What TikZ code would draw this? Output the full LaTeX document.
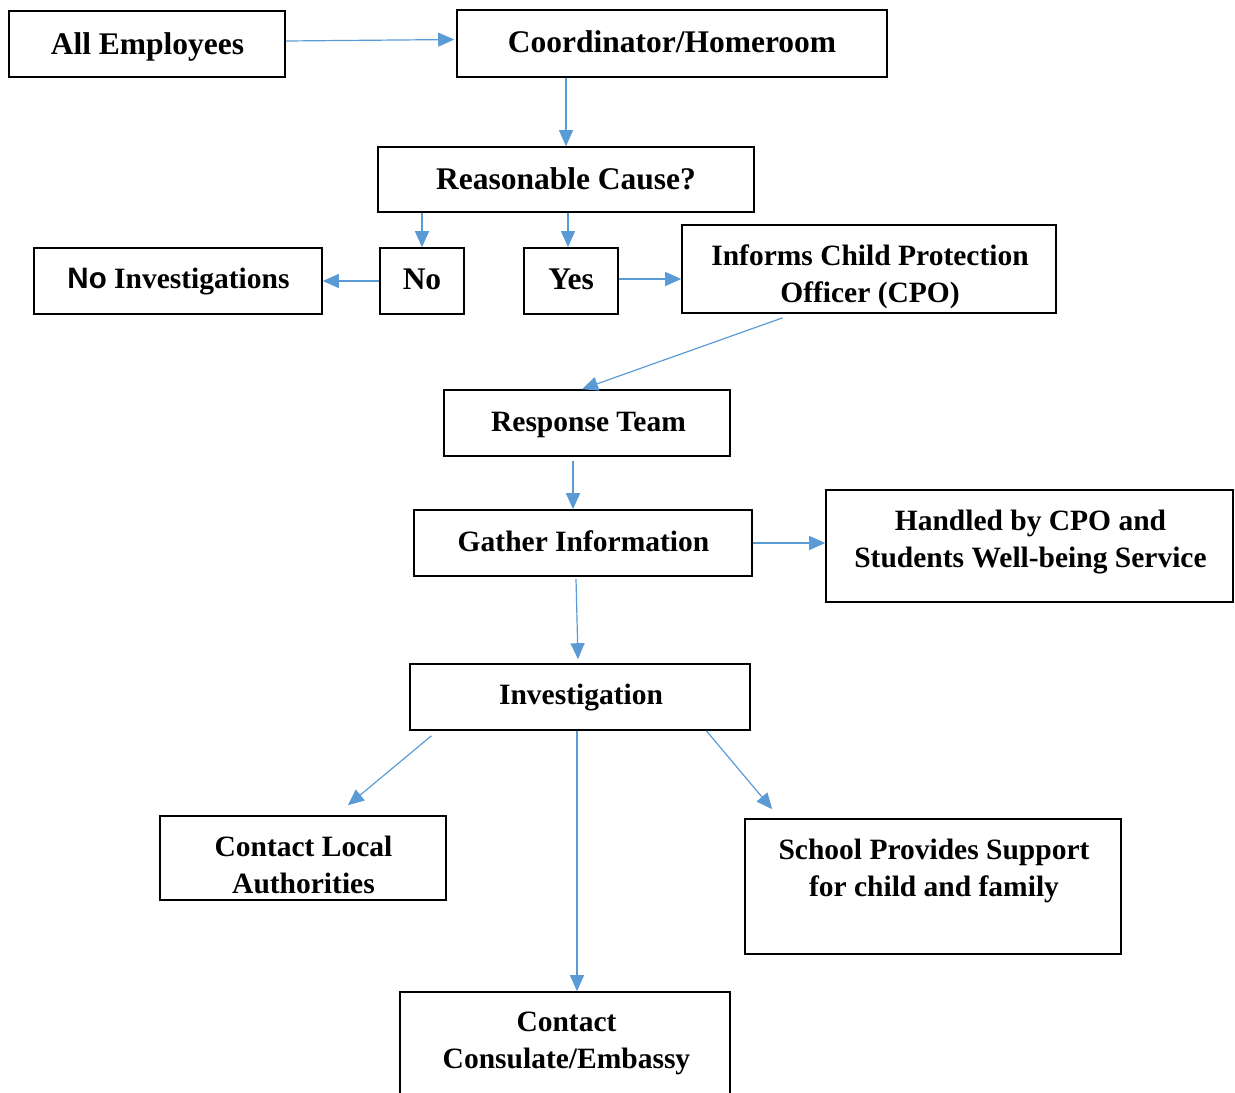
\documentclass[tikz,border=0pt]{standalone}
\usepackage{fontspec}
\setmainfont{Liberation Serif}
\newfontfamily\sansf{Liberation Sans}
\usetikzlibrary{arrows.meta,calc}
\definecolor{arr}{HTML}{5B9BD5}
\begin{document}
\begin{tikzpicture}[x=1pt,y=-1pt,
 box/.style={draw=black,line width=1.6pt,inner sep=0pt},
 big/.style={inner sep=0pt,align=center,font=\fontsize{31.5}{37}\selectfont\bfseries},
 txt/.style={inner sep=0pt,align=center,font=\fontsize{29.5}{37}\selectfont\bfseries},
 conn/.style={draw=arr,line width=1.2pt,-{Triangle[length=16pt,width=14pt]}}]
\useasboundingbox (0,0) rectangle (1235,1093);
\clip (0,0) rectangle (1235,1093);
% boxes
\node[box,minimum width=276,minimum height=66] (all) at (147,44) {};
\node[box,minimum width=430,minimum height=67] (coord) at (672,43.5) {};
\node[box,minimum width=376,minimum height=65] (reason) at (566,179.5) {};
\node[box,minimum width=288,minimum height=66] (noinv) at (178,281) {};
\node[box,minimum width=84,minimum height=66] (no) at (422,281) {};
\node[box,minimum width=94,minimum height=66] (yes) at (571,281) {};
\node[box,minimum width=374,minimum height=88] (cpo) at (869,269) {};
\node[box,minimum width=286,minimum height=66] (resp) at (587,423) {};
\node[box,minimum width=338,minimum height=66] (gather) at (583,543) {};
\node[box,minimum width=407,minimum height=112] (handled) at (1029.5,546) {};
\node[box,minimum width=340,minimum height=66] (invest) at (580,697) {};
\node[box,minimum width=286,minimum height=84] (local) at (303,858) {};
\node[box,minimum width=376,minimum height=135] (school) at (933,886.5) {};
\node[box,minimum width=330,minimum height=132] (cons) at (565,1058) {};
% texts
\node[big] (allT) at (147.5,47) {All Employees};
\node[big] (coordT) at (672,41.5) {Coordinator/Homeroom};
\node[big] (reasonT) at (566,178.5) {Reasonable Cause?};
\node[txt] (noinvT) at (178.5,282) {{\sansf No} Investigations};
\node[big] (noT) at (422,279) {No};
\node[big] (yesT) at (571,279) {Yes};
\node[txt] (cpoT) at (870,276.5) {Informs Child Protection\\Officer (CPO)};
\node[txt] (respT) at (588.5,425) {Response Team};
\node[txt] (gatherT) at (583.5,541) {Gather Information};
\node[txt] (handledT) at (1030.5,542) {Handled by CPO and\\Students Well-being Service};
\node[txt] (investT) at (581,698) {Investigation};
\node[txt] (localT) at (303.5,865) {Contact Local\\Authorities};
\node[txt] (schoolT) at (934,871) {School Provides Support\\for child and family};
\node[txt] (consT) at (566.5,1043) {Contact\\Consulate/Embassy};
% connectors
\draw[conn] ($(all.east)+(0,-3)$) -- ($(coord.west)+(-2,-4)$);
\draw[conn] (reason.north |- coord.south) -- (reason.north);
\draw[conn] (no.north |- reason.south) -- (no.north);
\draw[conn] ($(yes.north |- reason.south)+(-3,0)$) -- ($(yes.north)+(-3,0)$);
\draw[conn] (no.west) -- (noinv.east);
\draw[conn] ($(yes.east)+(0,-2)$) -- ($(yes.east -| cpo.west)+(0,-2)$);
\draw[conn] ($(cpo.south west)!0.27!(cpo.south east)+(0,4)$) -- ($(resp.north)+(-5,0)$);
\draw[conn] ($(resp.south)+(-14,4)$) -- ($(gather.north)+(-10,0)$);
\draw[conn] (gather.east) -- (gather.east -| handled.west);
\draw[conn] ($(gather.south)+(-7,2)$) -- ($(invest.north)+(-2,-4)$);
\draw[conn] ($(invest.south west)!0.065!(invest.south east)+(0,5)$) -- ($(local.north)+(45,-10)$);
\draw[conn] ($(invest.south)+(-3,0)$) -- ($(cons.north)+(12,0)$);
\draw[conn] ($(invest.south west)!0.87!(invest.south east)$) -- ($(school.north west)+(28,-9)$);
\end{tikzpicture}
\end{document}
